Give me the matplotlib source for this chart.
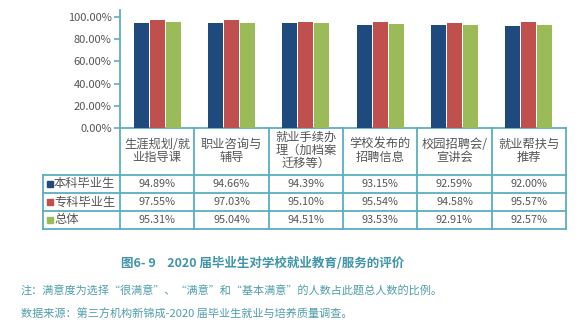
import matplotlib
matplotlib.use("Agg")
import matplotlib.pyplot as plt
import numpy as np

plt.rcParams['font.family'] = ['Noto Sans CJK SC', 'DejaVu Sans']

# ---------- DATA ----------
categories = ['生涯规划/就\n业指导课', '职业咨询与\n辅导', '就业手续办\n理（加档案\n迁移等）',
              '学校发布的\n招聘信息', '校园招聘会/\n宣讲会', '就业帮扶与\n推荐']
series_names = ['本科毕业生', '专科毕业生', '总体']
benke = [94.89, 94.66, 94.39, 93.15, 92.59, 92.00]
zhuanke = [97.55, 97.03, 95.10, 95.54, 94.58, 95.57]
zongti = [95.31, 95.04, 94.51, 93.53, 92.91, 92.57]
colors = ['#1f4a7e', '#c0504d', '#9bbb59']

caption = '图6- 9    2020 届毕业生对学校就业教育/服务的评价'
note1 = '注：满意度为选择“很满意”、“满意”和“基本满意”的人数占此题总人数的比例。'
note2 = '数据来源：第三方机构新锦成-2020 届毕业生就业与培养质量调查。'

W, H = 580, 331
line_c = '#5aaec0'
txt_c = '#555555'

fig = plt.figure(figsize=(W / 100, H / 100), dpi=100)

# pixel-coordinate overlay for the table and texts
tb = fig.add_axes([0, 0, 1, 1])
tb.set_xlim(0, W)
tb.set_ylim(H, 0)
tb.axis('off')

# bar axes
x0, x1 = 120, 566
y_top, y_zero, y_100 = 10, 128, 17
ax = fig.add_axes([x0 / W, 1 - y_zero / H, (x1 - x0) / W, (y_zero - y_top) / H])
ymax = (y_zero - y_top) / (y_zero - y_100)
ax.set_ylim(0, ymax)
ax.set_xlim(-0.5, len(categories) - 0.5)
ax.patch.set_alpha(0)

series = [benke, zhuanke, zongti]
x = np.arange(len(categories))
bw = 0.2
for i, (vals, c) in enumerate(zip(series, colors)):
    ax.bar(x + (i - 1) * 0.215, np.array(vals) / 100, width=bw, color=c, zorder=2)

ax.set_yticks(np.arange(0, 1.01, 0.2))
ax.set_yticklabels([f'{v:.2f}%' for v in np.arange(0, 101, 20)], fontsize=8, color=txt_c)
ax.tick_params(axis='y', length=4, color=line_c, width=1.2, pad=2)
ax.set_xticks([])
for s in ['top', 'right', 'bottom']:
    ax.spines[s].set_visible(False)
ax.spines['left'].set_color(line_c)
ax.spines['left'].set_linewidth(1.3)

# ---------- TABLE ----------
col_w = (x1 - x0) / len(categories)
row_y = [y_zero, 175, 193, 211, 229]
leg_x = 43
lw = 1.3

# horizontal lines
tb.plot([x0, x1], [row_y[0], row_y[0]], color=line_c, lw=lw)
for yy in row_y[1:]:
    tb.plot([leg_x, x1], [yy, yy], color=line_c, lw=lw)
# vertical lines
tb.plot([leg_x, leg_x], [row_y[1], row_y[-1]], color=line_c, lw=lw)
for k in range(len(categories) + 1):
    xx = x0 + k * col_w
    tb.plot([xx, xx], [row_y[0], row_y[-1]], color=line_c, lw=lw)

for k, cat in enumerate(categories):
    cx = x0 + (k + 0.5) * col_w
    tb.text(cx, (row_y[0] + row_y[1]) / 2 - 1, cat, ha='center', va='center',
            fontsize=8.8, color=txt_c, linespacing=1.0)

for r, (name, vals, c) in enumerate(zip(series_names, series, colors)):
    cy = (row_y[r + 1] + row_y[r + 2]) / 2
    tb.plot([50], [cy], marker='s', ms=4.5, color=c, mec=c)
    tb.text(54, cy, name, ha='left', va='center', fontsize=8.8, color=txt_c)
    for k, v in enumerate(vals):
        cx = x0 + (k + 0.5) * col_w
        tb.text(cx, cy, f'{v:.2f}%', ha='center', va='center', fontsize=7.8, color=txt_c)

# ---------- CAPTION / NOTES ----------
tb.text(263, 263, caption, ha='center', va='center', fontsize=9, fontweight='bold', color='#3f94aa')
tb.text(21, 290, note1, ha='left', va='center', fontsize=8, color='#4f9daa')
tb.text(21, 313, note2, ha='left', va='center', fontsize=8, color='#4f9daa')

fig.savefig('out.png', dpi=100)
